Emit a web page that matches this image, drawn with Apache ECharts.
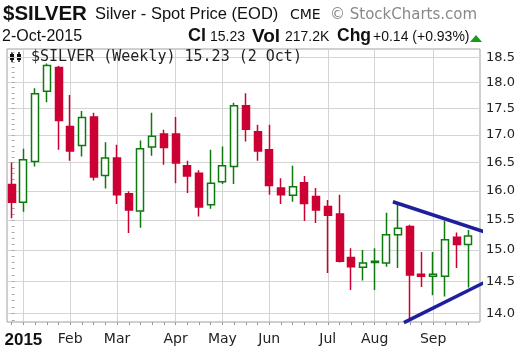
<!DOCTYPE html>
<html>
<head>
<meta charset="utf-8">
<script src="https://cdn.jsdelivr.net/npm/echarts@6/dist/echarts.min.js"></script>
<style>
html, body { margin: 0; padding: 0; background: #fff; }
#chart { width: 520px; height: 353px; }
</style>
</head>
<body>
<div id="chart"></div>
<script>
// weekly bars, week of (Monday)
var weekStarts = ['2014-12-29','2015-01-05','2015-01-12','2015-01-19','2015-01-26','2015-02-02','2015-02-09','2015-02-16','2015-02-23','2015-03-02',
  '2015-03-09','2015-03-16','2015-03-23','2015-03-30','2015-04-06','2015-04-13','2015-04-20','2015-04-27','2015-05-04','2015-05-11',
  '2015-05-18','2015-05-25','2015-06-01','2015-06-08','2015-06-15','2015-06-22','2015-06-29','2015-07-06','2015-07-13','2015-07-20',
  '2015-07-27','2015-08-03','2015-08-10','2015-08-17','2015-08-24','2015-08-31','2015-09-07','2015-09-14','2015-09-21','2015-09-28'];
var opens  = [16.11,15.80,16.52,17.83,18.30,17.16,16.81,17.34,16.27,16.58,15.95,15.65,16.78,17.02,17.02,16.44,16.31,15.76,16.16,16.43,
  17.55,17.06,16.73,16.05,15.92,16.14,15.90,15.73,15.60,14.88,14.72,14.80,14.79,15.25,15.39,14.61,14.58,14.58,15.21,15.09];
var closes = [15.80,16.55,17.78,18.34,17.27,16.71,17.33,16.24,16.58,15.93,15.67,16.75,16.98,16.77,16.49,16.26,15.72,16.13,16.44,17.55,
  17.11,16.71,16.09,15.93,16.07,15.78,15.67,15.58,14.82,14.73,14.79,14.82,15.25,15.36,14.60,14.58,14.61,15.17,15.09,15.23];
var lows   = [15.53,15.64,16.43,17.62,16.73,16.53,16.61,16.18,16.04,15.77,15.28,15.37,16.62,16.46,16.13,15.96,15.56,15.69,16.12,16.12,
  16.88,16.53,15.93,15.77,15.81,15.48,15.45,14.63,14.80,14.36,14.51,14.36,14.73,14.71,13.92,14.41,14.28,14.26,14.71,14.40];
var highs  = [16.50,16.75,17.89,18.38,18.33,17.76,17.45,17.42,16.87,16.82,15.99,16.90,17.42,17.10,17.34,16.53,16.36,16.73,16.79,17.61,
  17.79,17.19,17.19,16.22,16.44,16.26,16.05,15.84,15.93,15.03,15.00,15.03,15.62,15.76,15.42,14.97,14.97,15.48,15.29,15.33];

// month labels sit on the first week starting in that month
var monthIdx = [1, 5, 9, 14, 18, 22, 27, 31, 36];
var monthLabels = ['2015', 'Feb', 'Mar', 'Apr', 'May', 'Jun', 'Jul', 'Aug', 'Sep'];
var priceTicks = [14.0, 14.5, 15.0, 15.5, 16.0, 16.5, 17.0, 17.5, 18.0, 18.5];

// triangle trendlines: [week index, price]
var upperLine = [[32.56, 15.81], [40.72, 15.28]];
var lowerLine = [[33.50, 13.86], [40.70, 14.51]];

var yLow = 13.87, yHigh = 18.67;

var ln = Math.log;
var candleData = [];
for (var i = 0; i < weekStarts.length; i++) {
  candleData.push([i, ln(opens[i]), ln(closes[i]), ln(lows[i]), ln(highs[i])]);
}
var minorTicks = [];
for (var t = 139; t <= 186; t++) minorTicks.push(ln(t / 10));
var weekTicks = weekStarts.map(function (d, i) { return i; });

var red = '#cc0033', green = '#0c7a0c', blue = '#1f1f9e';

var option = {
  animation: false,
  backgroundColor: '#fff',
  grid: { left: 7, right: 40, top: 49, bottom: 31, show: true, borderColor: '#a0a0a0', borderWidth: 1, backgroundColor: '#fff' },
  xAxis: [{
    type: 'value', position: 'bottom', min: -0.4, max: 40,
    axisLine: { show: false },
    axisTick: { show: true, customValues: weekTicks, length: 3, lineStyle: { color: '#999' } },
    axisLabel: { show: false },
    splitLine: { show: false }
  }, {
    type: 'value', position: 'bottom', min: -0.4, max: 40,
    axisLine: { show: false },
    axisTick: { show: false, customValues: monthIdx },
    axisLabel: {
      customValues: monthIdx, margin: 10,
      formatter: function (v) {
        var k = monthIdx.indexOf(Math.round(v));
        return k === 0 ? '{yr|' + monthLabels[k] + '}' : '{mo|' + monthLabels[k] + '}';
      },
      rich: {
        yr: { fontFamily: 'Liberation Sans', fontWeight: 'bold', fontSize: 17, color: '#111' },
        mo: { fontFamily: 'DejaVu Sans', fontSize: 14, color: '#222' }
      }
    },
    splitLine: { show: true, lineStyle: { color: '#d4d4d4', width: 1 } }
  }],
  yAxis: [{
    type: 'value', position: 'right', min: ln(yLow), max: ln(yHigh),
    axisLine: { show: false },
    axisTick: { show: false, customValues: priceTicks.map(ln) },
    axisLabel: {
      customValues: priceTicks.map(ln), margin: 6,
      fontFamily: 'DejaVu Sans', fontSize: 13, color: '#222',
      formatter: function (v) { return Math.exp(v).toFixed(1); }
    },
    splitLine: { show: true, lineStyle: { color: '#d4d4d4', width: 1 } }
  }, {
    type: 'value', position: 'right', min: ln(yLow), max: ln(yHigh),
    axisLine: { show: false },
    axisTick: { show: true, customValues: minorTicks, length: 3, lineStyle: { color: '#aaa' } },
    axisLabel: { show: false },
    splitLine: { show: false }
  }],
  series: [{
    type: 'candlestick',
    xAxisIndex: 0, yAxisIndex: 0,
    encode: { x: 0, y: [1, 2, 3, 4] },
    barWidth: 7.5,
    itemStyle: { color: '#fff', color0: red, borderColor: green, borderColor0: red, borderWidth: 1.5 },
    data: candleData
  }, {
    type: 'line', xAxisIndex: 0, yAxisIndex: 0, clip: false, symbol: 'none', z: 5,
    lineStyle: { color: blue, width: 3.5 },
    data: upperLine.map(function (p) { return [p[0], ln(p[1])]; })
  }, {
    type: 'line', xAxisIndex: 0, yAxisIndex: 0, clip: false, symbol: 'none', z: 5,
    lineStyle: { color: blue, width: 3.5 },
    data: lowerLine.map(function (p) { return [p[0], ln(p[1])]; })
  }],
  graphic: [
    { type: 'text', x: 3, y: 14, style: { text: '$SILVER', font: 'bold 20.5px "Liberation Sans"', fill: '#111', verticalAlign: 'middle' } },
    { type: 'text', x: 95, y: 14, style: { text: 'Silver - Spot Price (EOD)', font: '16.5px "Liberation Sans"', fill: '#111', verticalAlign: 'middle' } },
    { type: 'text', x: 290, y: 15, style: { text: 'CME', font: '14px "DejaVu Sans"', fill: '#111', verticalAlign: 'middle' } },
    { type: 'text', x: 330, y: 15, style: { text: '\u00a9 StockCharts.com', font: '15px "DejaVu Sans"', fill: '#888', verticalAlign: 'middle' } },
    { type: 'text', x: 2, y: 37, style: { text: '2-Oct-2015', font: '16px "Liberation Sans"', fill: '#111', verticalAlign: 'middle' } },
    { type: 'text', x: 188, y: 36.5, style: { text: 'Cl', font: 'bold 18px "Liberation Sans"', fill: '#111', verticalAlign: 'middle' } },
    { type: 'text', x: 210, y: 37, style: { text: '15.23', font: '14px "Liberation Sans"', fill: '#111', verticalAlign: 'middle' } },
    { type: 'text', x: 252, y: 36.5, style: { text: 'Vol', font: 'bold 19px "Liberation Sans"', fill: '#111', verticalAlign: 'middle' } },
    { type: 'text', x: 285, y: 37, style: { text: '217.2K', font: '14px "Liberation Sans"', fill: '#111', verticalAlign: 'middle' } },
    { type: 'text', x: 337, y: 36.5, style: { text: 'Chg', font: 'bold 17.5px "Liberation Sans"', fill: '#111', verticalAlign: 'middle' } },
    { type: 'text', x: 373, y: 37, style: { text: '+0.14 (+0.93%)', font: '14px "Liberation Sans"', fill: '#111', verticalAlign: 'middle' } },
    { type: 'polygon', shape: { points: [[470, 42], [482, 42], [476, 35]] }, style: { fill: '#1a9a1a' } },
    // legend glyph + text inside plot
    { type: 'rect', shape: { x: 10, y: 54, width: 4, height: 6 }, style: { fill: '#111' } },
    { type: 'line', shape: { x1: 12, y1: 52, x2: 12, y2: 62 }, style: { stroke: '#111', lineWidth: 1.5 } },
    { type: 'rect', shape: { x: 17, y: 54, width: 4, height: 6 }, style: { fill: '#111' } },
    { type: 'line', shape: { x1: 19, y1: 52, x2: 19, y2: 62 }, style: { stroke: '#111', lineWidth: 1.5 } },
    { type: 'text', x: 31, y: 57.5, z: 10, style: { text: '$SILVER (Weekly) 15.23 (2 Oct)', font: '15px "DejaVu Sans Mono"', fill: '#222', verticalAlign: 'middle' } }
  ]
};

var myChart = echarts.init(document.getElementById('chart'));
myChart.setOption(option, true);
</script>
</body>
</html>
